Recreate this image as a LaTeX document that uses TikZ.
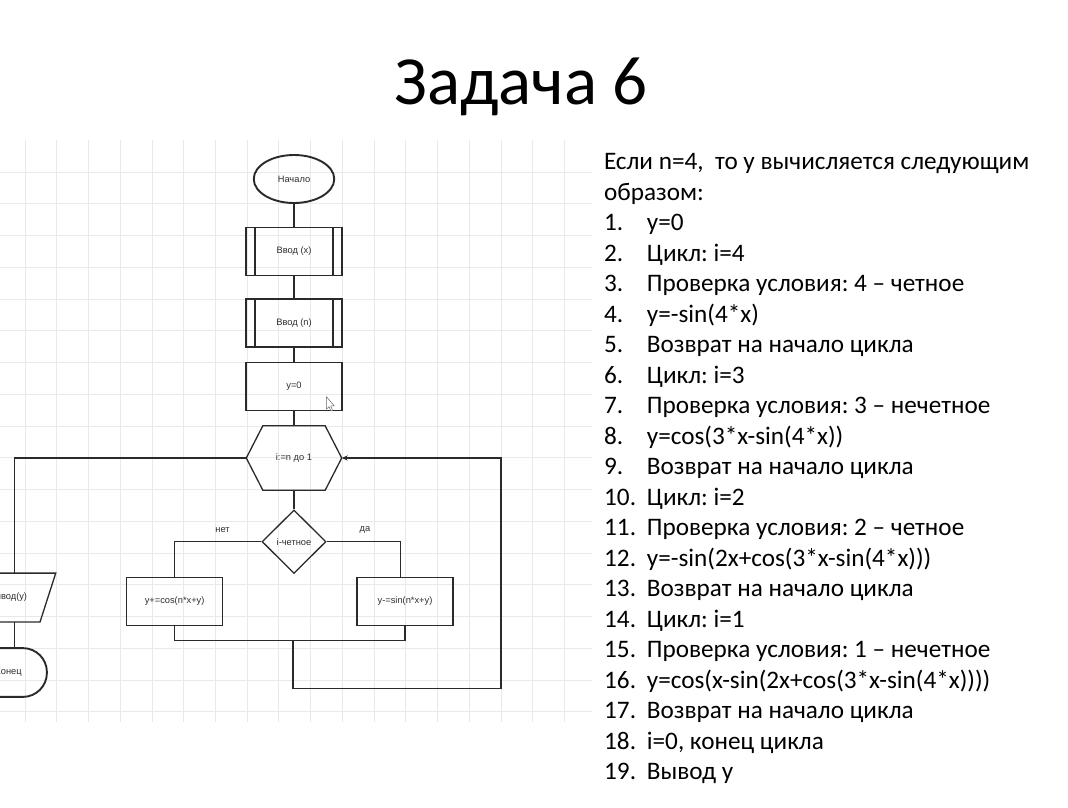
\documentclass[tikz,border=0pt]{standalone}
\usepackage{fontspec}
\setmainfont{Carlito}
\newfontfamily\chartfont{Liberation Sans}
\usetikzlibrary{shapes.geometric,arrows.meta,calc}
\frenchspacing

\definecolor{gridline}{HTML}{E9E9E9}
\definecolor{ink}{HTML}{2A2A2A}
\definecolor{charttext}{HTML}{2E2E2E}

\tikzset{
  gridrule/.style={draw=gridline, line width=0.9pt},
  conn/.style={draw=ink, line width=1.3pt},
  outline/.style={draw=ink, line width=1.3pt},
  thickoutline/.style={draw=ink, line width=1.9pt},
  chartlabel/.style={font=\chartfont\fontsize{9.3}{11}\selectfont, text=charttext, inner sep=0pt},
  procbox/.style={outline, chartlabel, rectangle, minimum width=96pt, minimum height=48pt},
  blank/.style={draw=none, inner sep=0pt},
  listtext/.style={font=\fontsize{25.2}{28}\selectfont, anchor=base west, inner sep=0pt},
}

\begin{document}
\begin{tikzpicture}[x=1pt, y=-1pt]
\useasboundingbox (0,0) rectangle (1068,808);
\fill[white] (0,0) rectangle (1068,808);

% editor grid behind the flowchart
\foreach \k in {0,...,17}
  \draw[gridrule] ({25+31.74*\k},140) -- ({25+31.74*\k},722);
\foreach \k in {1,...,18}
  \draw[gridrule] (0,{140.2+31.76*\k}) -- (592,{140.2+31.76*\k});

% title
\node[font=\fontsize{69}{69}\selectfont, anchor=base, inner sep=0pt] (title) at (521,104) {Задача 6};

% ---------- flowchart ----------
\node[ellipse, thickoutline, chartlabel, minimum width=80.5pt, minimum height=48pt] (start) at (294,179) {Начало};

\node[procbox] (inx) at (294,251.3) {Ввод (x)};
\draw[outline] ([xshift=9.6pt]inx.north west) -- ([xshift=9.6pt]inx.south west)
               ([xshift=-9.6pt]inx.north east) -- ([xshift=-9.6pt]inx.south east);

\node[procbox] (inn) at (294,323) {Ввод (n)};
\draw[outline] ([xshift=9.6pt]inn.north west) -- ([xshift=9.6pt]inn.south west)
               ([xshift=-9.6pt]inn.north east) -- ([xshift=-9.6pt]inn.south east);

\node[procbox] (yzero) at (294,386.7) {y=0};

% loop header (hexagon)
\node[blank, chartlabel, minimum width=95pt, minimum height=64pt] (loop) at (294,458) {i:=n до 1};
\draw[outline] (loop.west) -- ([xshift=16.5pt]loop.north west) -- ([xshift=-16.5pt]loop.north east)
  -- (loop.east) -- ([xshift=-16.5pt]loop.south east) -- ([xshift=16.5pt]loop.south west) -- cycle;

% condition
\node[diamond, outline, chartlabel, minimum width=64pt, minimum height=63.5pt, aspect=1] (cond) at (294,541.7) {i-четное};
\node[chartlabel] (nolabel) at (222.5,530) {нет};
\node[chartlabel] (yeslabel) at (365,530) {да};

\node[procbox, minimum height=48.4pt] (bno) at (174.6,601.5) {y+=cos(n*x+y)};
\node[procbox] (byes) at (405,601.3) {y-=sin(n*x+y)};

% output (parallelogram)
\node[blank, minimum width=66pt, minimum height=48.4pt] (out) at (14.7,597.5) {};
\draw[outline] ([xshift=7.85pt]out.north west) -- ([xshift=7.85pt]out.north east)
  -- ([xshift=-7.85pt]out.south east) -- ([xshift=-7.85pt]out.south west) -- cycle;
\node[chartlabel, anchor=east] (outtext) at (27.3,597.5) {Вывод(y)};

% end terminator
\node[blank, minimum width=110pt, minimum height=48.4pt] (fin) at (-8.3,672.5) {};
\draw[thickoutline, rounded corners=24pt] (fin.north west) rectangle (fin.south east);
\node[chartlabel, anchor=east] (fintext) at (21.9,672.5) {Конец};

% connectors
\draw[conn] (start.south) -- (inx.north);
\draw[conn] (inx.south) -- (inn.north);
\draw[conn] (inn.south) -- (yzero.north);
\draw[conn] (yzero.south) -- (loop.north);
\draw[conn] (loop.south) -- (cond.north);
\draw[conn] (loop.west) -| (out.north);
\draw[conn] (out.south) -- (fin.north -| out.south);
\draw[conn] (cond.west) -| (bno.north);
\draw[conn] (cond.east) -| ([xshift=-4.7pt]byes.north);
\coordinate (merge) at (293,640.7);
\draw[conn] (bno.south) |- (merge) -| (byes.south);
\coordinate (back) at (501,688.3);
\draw[conn, -{Stealth[length=6pt,width=5pt]}] (merge) |- (back) |- (loop.east);

% pointer cursor resting on the y=0 block
\draw[draw=black!60, fill=white, line width=0.5pt, line join=round]
  (326.4,396.7) -- (326.4,409.2) -- (329,406.7) -- (331,411) -- (332.6,410.3) -- (330.7,406) -- (334.2,405.8) -- cycle;

% ---------- worked example ----------
\node[listtext] (intro) at (604,169.5) {Если n=4,~~то у вычисляется следующим};
\node[listtext] (intro2) at (604,200) {образом:};
\foreach \txt [count=\j] in {
  {y=0},
  {Цикл: i=4},
  {Проверка условия: 4 – четное},
  {y=-sin(4*x)},
  {Возврат на начало цикла},
  {Цикл: i=3},
  {Проверка условия: 3 – нечетное},
  {y=cos(3*x-sin(4*x))},
  {Возврат на начало цикла},
  {Цикл: i=2},
  {Проверка условия: 2 – четное},
  {y=-sin(2x+cos(3*x-sin(4*x)))},
  {Возврат на начало цикла},
  {Цикл: i=1},
  {Проверка условия: 1 – нечетное},
  {y=cos(x-sin(2x+cos(3*x-sin(4*x))))},
  {Возврат на начало цикла},
  {i=0, конец цикла},
  {Вывод у}}
{
  \node[listtext] (num\j) at (604,{169.5+30.5*(\j+1)}) {\j.};
  \node[listtext] (item\j) at (646.7,{169.5+30.5*(\j+1)}) {\txt};
}
\end{tikzpicture}
\end{document}
